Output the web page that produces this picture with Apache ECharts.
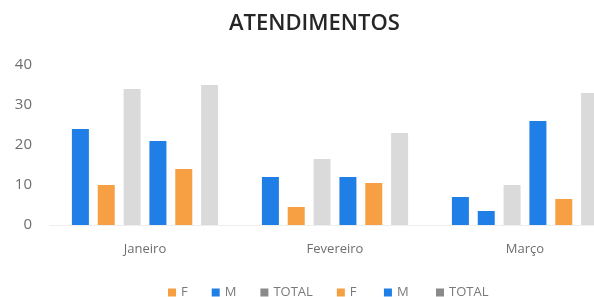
<!DOCTYPE html>
<html>
<head>
<meta charset="utf-8">
<script src="https://cdn.jsdelivr.net/npm/echarts@6/dist/echarts.min.js"></script>
<style>
  html, body { margin: 0; padding: 0; background: #fff; }
  #chart { width: 594px; height: 297px; }
</style>
</head>
<body>
<div id="chart"></div>
<script>
// dados
const meses = ['Janeiro', 'Fevereiro', 'Março']
const m1 = [24, 12, 7]
const f1 = [10, 4.5, 3.5]
const total1 = [34, 16.5, 10]
const m2 = [21, 12, 26]
const f2 = [14, 10.5, 6.5]
const total2 = [35, 23, 33]
const yTicks = [0, 10, 20, 30, 40]

const azul = '#1f7fe6'
const laranja = '#f7a043'
const cinza = '#dadada'

const chart = echarts.init(document.getElementById('chart'))

const barBase = {
  type: 'bar',
  barWidth: 17,
  barGap: '52%'
}

// no original o 2º barra de Março aparece azul
const f1Data = f1.map((v, i) => (i === 2 ? { value: v, itemStyle: { color: azul } } : v))

chart.setOption({
  animation: false,
  title: {
    text: 'ATENDIMENTOS',
    left: 224,
    top: 8,
    textStyle: { fontFamily: 'Open Sans', fontSize: 22, fontWeight: 600, color: '#262626' }
  },
  // o gráfico original está cortado à direita
  grid: { left: 50, width: 570, top: 65, bottom: 72, outerBoundsMode: 'none', containLabel: false },
  legend: {
    left: 163,
    top: 281,
    itemWidth: 8,
    itemHeight: 8,
    itemGap: 24,
    icon: 'rect',
    textStyle: { fontFamily: 'Open Sans', fontSize: 13, color: '#7a7a7a' },
    data: [
      { name: 'F', itemStyle: { color: laranja } },
      { name: 'M', itemStyle: { color: azul } },
      { name: 'TOTAL', itemStyle: { color: '#8a8a8a' } },
      { name: 'F ', itemStyle: { color: laranja } },
      { name: 'M ', itemStyle: { color: azul } },
      { name: 'TOTAL ', itemStyle: { color: '#8a8a8a' } }
    ]
  },
  xAxis: {
    type: 'category',
    data: meses,
    axisLine: { lineStyle: { color: '#eeeeee' } },
    axisTick: { show: false },
    axisLabel: { fontFamily: 'Open Sans', fontSize: 13, color: '#6e6e6e', margin: 18 }
  },
  yAxis: {
    type: 'value',
    min: yTicks[0],
    max: yTicks[yTicks.length - 1],
    interval: 10,
    splitLine: { show: false },
    axisLine: { show: false },
    axisTick: { show: false },
    axisLabel: { fontFamily: 'Open Sans', fontSize: 15, color: '#6e6e6e', margin: 18 }
  },
  series: [
    { ...barBase, name: 'M', data: m1, itemStyle: { color: azul } },
    { ...barBase, name: 'F', data: f1Data, itemStyle: { color: laranja } },
    { ...barBase, name: 'TOTAL', data: total1, itemStyle: { color: cinza } },
    { ...barBase, name: 'M ', data: m2, itemStyle: { color: azul } },
    { ...barBase, name: 'F ', data: f2, itemStyle: { color: laranja } },
    { ...barBase, name: 'TOTAL ', data: total2, itemStyle: { color: cinza } }
  ]
})
</script>
</body>
</html>
